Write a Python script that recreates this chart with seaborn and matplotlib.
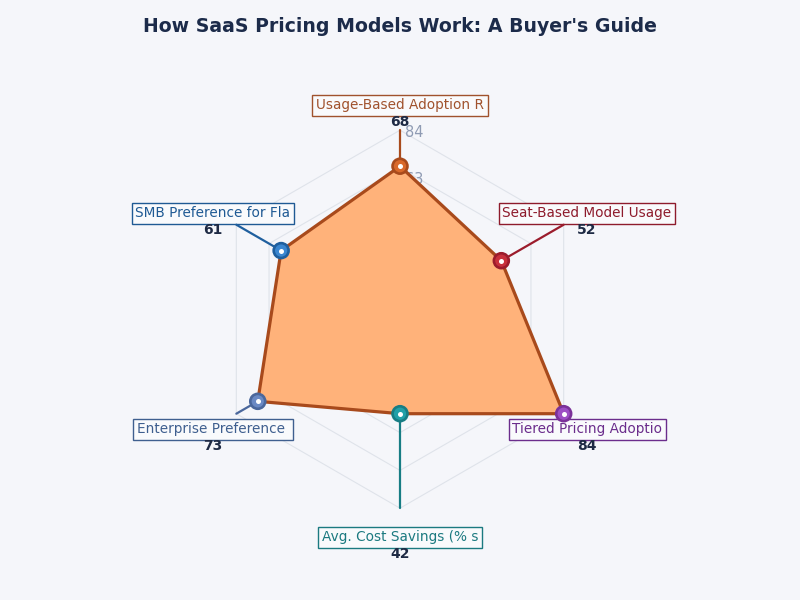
import numpy as np
import matplotlib
matplotlib.use("Agg")
import matplotlib.pyplot as plt
import seaborn as sns

# data, clockwise from the top
categories = ["Usage-Based Adoption R", "Seat-Based Model Usage", "Tiered Pricing Adoptio",
              "Avg. Cost Savings (% s", "Enterprise Preference ", "SMB Preference for Fla"]
values = [68, 52, 84, 42, 73, 61]
tick_labels = [21, 42, 63, 84]
r_max = 84

text_colors = ["#a0522d", "#8e1b2c", "#6b2d8c", "#1b7a80", "#3f5f8f", "#1f5a94"]
marker_colors = ["#d9692b", "#c8303c", "#9d4fc4", "#22a0a8", "#6a89c4", "#3a86d0"]
marker_edges = ["#a84a1c", "#9b1c2c", "#7b3299", "#177d84", "#4a679c", "#1f5f9e"]

bg = "#f5f6fa"
grid_c = "#dfe3ea"
fill_c = "#ffb27a"
edge_c = "#a84a1c"
navy = "#1e2a44"

sns.set_theme(style="white", rc={"figure.facecolor": bg, "axes.facecolor": bg})
plt.rcParams["font.family"] = ["DejaVu Sans"]

fig = plt.figure(figsize=(8, 6), dpi=100)
ax = fig.add_axes([0.5 - 0.23625, 0.468 - 0.315, 0.4725, 0.63], projection="polar")
ax.set_theta_offset(np.pi / 2)
ax.set_theta_direction(-1)
ax.set_ylim(0, r_max)
ax.set_xticks([])
ax.set_yticks([])
ax.grid(False)
ax.spines["polar"].set_visible(False)
ax.set_facecolor("none")

theta = np.arange(len(values)) * 2 * np.pi / len(values)
theta_closed = np.append(theta, 2 * np.pi)
values_closed = values + values[:1]

# hexagon grid
for frac in [0.2, 0.4, 0.6, 0.8, 1.0]:
    ax.plot(theta_closed, [frac * r_max] * len(theta_closed), color=grid_c, lw=0.8,
            zorder=1, clip_on=False)

# radial tick labels (mostly hidden behind the fill)
for t in tick_labels:
    ax.annotate(str(t), xy=(0, t), xytext=(5, -2), textcoords="offset pixels",
                ha="left", va="center", color="#8f9bb3", fontsize=10.5, zorder=1.5,
                annotation_clip=False)

# filled polygon
ax.fill(theta_closed, values_closed, color=fill_c, zorder=2, lw=0)
sns.lineplot(x=theta_closed, y=values_closed, sort=False, estimator=None,
             color=edge_c, lw=2.3, ax=ax, zorder=3)

# leader lines to the outer ring
for th, v, c in zip(theta, values, marker_edges):
    ax.plot([th, th], [v, r_max], color=c, lw=1.6, zorder=4, clip_on=False)

# markers
sns.scatterplot(x=theta, y=values, hue=categories, palette=marker_colors, legend=False,
                s=115, edgecolor=marker_edges, linewidth=1.9, ax=ax, zorder=5, clip_on=False)
sns.scatterplot(x=theta, y=values, color="white", s=13, linewidth=0, ax=ax, zorder=6,
                clip_on=False)

# labels
r_label = 96
for th, v, name, c in zip(theta, values, categories, text_colors):
    ax.annotate(name, xy=(th, r_label), xytext=(0, -2), textcoords="offset pixels",
                ha="center", va="center", color=c, fontsize=9.8, annotation_clip=False,
                bbox=dict(boxstyle="square,pad=0.26", fc="#f9fafc", ec=c, lw=1))
    ax.annotate(str(v), xy=(th, r_label), xytext=(0, -19), textcoords="offset pixels",
                ha="center", va="center", color=navy, fontsize=10, weight="bold",
                annotation_clip=False)

fig.text(0.5, 1 - 27 / 600, "How SaaS Pricing Models Work: A Buyer's Guide",
         ha="center", va="center", fontsize=13.6, weight="bold", color="#1c2b4a")

fig.savefig("out.png", dpi=100)
